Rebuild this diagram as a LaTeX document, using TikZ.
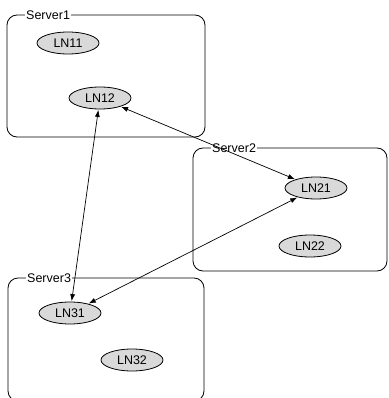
\documentclass[tikz,border=0pt]{standalone}
\usepackage{fontspec}
\setmainfont{Liberation Sans}
\usetikzlibrary{shapes.geometric,arrows.meta}
\definecolor{lngray}{RGB}{217,217,217}
\tikzset{
  server/.style={draw=black, line width=0.8pt, rounded corners=10pt},
  srvlabel/.style={fill=white, inner sep=1pt, anchor=west, font=\fontsize{12.5}{14}\selectfont},
  ln/.style={ellipse, draw=black, line width=0.8pt, fill=lngray, minimum width=62pt, minimum height=22pt, inner sep=0pt, font=\fontsize{12.5}{14}\selectfont},
  link/.style={line width=0.7pt, {Latex[length=7pt,width=5pt]}-{Latex[length=7pt,width=5pt]}, shorten <=0.5pt, shorten >=0.5pt}
}
\begin{document}
\begin{tikzpicture}[x=1pt,y=-1pt]
\useasboundingbox (0,0) rectangle (388,398);
\clip (0,0) rectangle (388,398);
% servers
\draw[server] (7,15) rectangle (205,137);
\node[srvlabel] (s1) at (25,15) {Server1};
\draw[server] (193,148) rectangle (387,271);
\node[srvlabel] (s2) at (211,148) {Server2};
\draw[server] (8,278) rectangle (204,401);
\node[srvlabel] (s3) at (26,278) {Server3};
% logical nodes
\node[ln] (ln11) at (68,43) {LN11};
\node[ln] (ln12) at (100,98) {LN12};
\node[ln] (ln21) at (316,188) {LN21};
\node[ln] (ln22) at (310,246) {LN22};
\node[ln] (ln31) at (70,313) {LN31};
\node[ln] (ln32) at (132,360) {LN32};
% links
\draw[link] (ln12) -- (ln31);
\draw[link] (ln12) -- (ln21);
\draw[link] (ln21) -- (ln31);
\end{tikzpicture}
\end{document}
